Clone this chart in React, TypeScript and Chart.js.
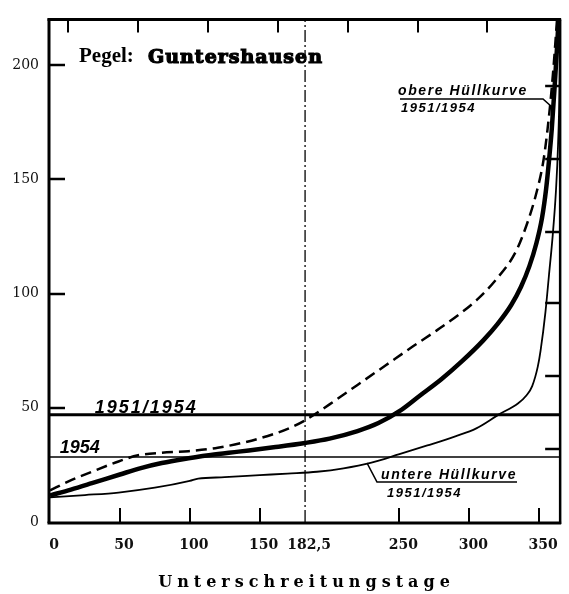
import React, { useEffect, useRef } from "react";
import { Chart, registerables } from "chart.js";

Chart.register(...registerables);

// ---- axis ticks ----
const xTickValues = [0, 50, 100, 150, 182.5, 250, 300, 350];
const yTickValues = [0, 50, 100, 150, 200];
const bottomInnerTicks = [50, 100, 150, 250, 300, 350];
const leftInnerTicks = [50, 100, 150, 200];
const topInnerTicks = [13, 63, 113, 163, 213, 263, 313];
const rightInnerTicks = [32, 64, 96, 127, 159, 191];

// ---- obere Hüllkurve 1951/1954 (dashed) ----
const upperDays = [0, 14, 28, 49, 63, 80, 99, 120, 140, 160, 172, 182.5, 200, 220, 240, 260, 277, 293, 305, 319, 333, 341, 348, 353, 356, 359, 361, 363];
const upperValues = [13.8, 18, 21.5, 26.5, 29.2, 30.3, 31, 32.5, 35, 38.5, 41.3, 44.5, 51.5, 60, 68.5, 77, 84, 91, 97, 106, 118, 130, 144, 158, 172, 190, 205, 222];

// ---- mittlere Dauerlinie (thick) ----
const middleDays = [0, 15, 30, 50, 65, 80, 95, 115, 135, 160, 182.5, 200, 220, 235, 250, 265, 280, 295, 310, 320, 330, 337, 343, 348, 352, 355, 357, 359, 361, 363, 364.5];
const middleValues = [11.6, 14.2, 17, 20.8, 23.6, 25.8, 27.5, 29.3, 30.8, 32.7, 34.6, 36.5, 39.8, 43.3, 48.5, 55.5, 62.5, 70.5, 79.5, 86.5, 95, 103, 112, 122, 133, 146, 158, 172, 190, 210, 228];

// ---- untere Hüllkurve 1951/1954 (thin) ----
const lowerDays = [0, 25, 49, 75, 100, 106, 125, 150, 170, 191, 210, 230, 250, 270, 290, 305, 321, 335, 341, 345, 349, 351, 354.5, 357, 359.7, 362, 363.5, 364.5, 365];
const lowerValues = [10.8, 11.8, 12.9, 15, 18, 19, 19.6, 20.5, 21.2, 22, 23.5, 26, 29.7, 33.5, 37.5, 41, 47, 52, 55.5, 59.5, 68, 75, 92, 108, 125.6, 145, 165, 190, 225];

// ---- horizontal levels and half-year line ----
const level19511954 = 47;
const level1954 = 28.5;
const halfYearDay = 182.5;
const xMax = 365;
const yMax = 220;

const pts = (xs: number[], ys: number[]) => xs.map((d, i) => ({ x: d, y: ys[i] }));

const decorPlugin = {
  id: "decor",
  afterDatasetsDraw(chart: any) {
    const { ctx, chartArea, scales } = chart;
    const { left, right, top, bottom } = chartArea;
    const xs = scales.x;
    const ys = scales.y;
    ctx.save();
    ctx.strokeStyle = "#000";
    ctx.fillStyle = "#000";
    ctx.lineCap = "butt";

    // frame
    ctx.lineWidth = 3;
    ctx.beginPath();
    ctx.moveTo(left - 1, top - 1);
    ctx.lineTo(left - 1, bottom + 1);
    ctx.stroke();
    ctx.beginPath();
    ctx.moveTo(left - 2.5, bottom + 1);
    ctx.lineTo(right + 1, bottom + 1);
    ctx.stroke();
    ctx.beginPath();
    ctx.moveTo(left - 2.5, top);
    ctx.lineTo(right + 1, top);
    ctx.stroke();
    ctx.lineWidth = 2.5;
    ctx.beginPath();
    ctx.moveTo(right, top);
    ctx.lineTo(right, bottom + 2);
    ctx.stroke();

    // inner ticks
    ctx.lineWidth = 2;
    bottomInnerTicks.forEach((v) => {
      const px = Math.round(xs.getPixelForValue(v));
      ctx.beginPath();
      ctx.moveTo(px, bottom);
      ctx.lineTo(px, bottom - 14);
      ctx.stroke();
    });
    topInnerTicks.forEach((v) => {
      const px = Math.round(xs.getPixelForValue(v));
      ctx.beginPath();
      ctx.moveTo(px, top);
      ctx.lineTo(px, top + 13);
      ctx.stroke();
    });
    ctx.lineWidth = 2.5;
    leftInnerTicks.forEach((v) => {
      const py = Math.round(ys.getPixelForValue(v));
      ctx.beginPath();
      ctx.moveTo(left, py);
      ctx.lineTo(left + 15, py);
      ctx.stroke();
    });
    rightInnerTicks.forEach((v) => {
      const py = Math.round(ys.getPixelForValue(v));
      ctx.beginPath();
      ctx.moveTo(right, py);
      ctx.lineTo(right - 15, py);
      ctx.stroke();
    });

    const X = (v: number) => xs.getPixelForValue(v);
    const Y = (v: number) => ys.getPixelForValue(v);
    ctx.textAlign = "left";
    ctx.textBaseline = "alphabetic";

    // Pegel label
    ctx.letterSpacing = "0px";
    ctx.font = 'bold 21px "Liberation Serif"';
    ctx.fillText("Pegel:", 79, 62);
    ctx.font = 'bold 19px "DejaVu Serif"';
    ctx.letterSpacing = "1px";
    ctx.lineWidth = 1.2;
    ctx.fillText("Guntershausen", 148, 63);
    ctx.strokeText("Guntershausen", 148, 63);

    // level labels
    ctx.font = 'italic bold 18px "Liberation Sans"';
    ctx.letterSpacing = "2px";
    ctx.fillText("1951/1954", X(32), Y(47.7));
    ctx.letterSpacing = "0px";
    ctx.fillText("1954", X(7), Y(30));

    // obere Hüllkurve
    ctx.font = 'italic bold 14px "Liberation Sans"';
    ctx.letterSpacing = "1.6px";
    ctx.fillText("obere Hüllkurve", 398, 95);
    ctx.font = 'italic bold 13px "Liberation Sans"';
    ctx.letterSpacing = "1.5px";
    ctx.fillText("1951/1954", 401, 112);
    ctx.lineWidth = 1.6;
    ctx.beginPath();
    ctx.moveTo(400, 99);
    ctx.lineTo(543, 99);
    ctx.lineTo(552, 107);
    ctx.stroke();

    // untere Hüllkurve
    ctx.font = 'italic bold 14px "Liberation Sans"';
    ctx.letterSpacing = "1.6px";
    ctx.fillText("untere Hüllkurve", 381, 479);
    ctx.font = 'italic bold 13px "Liberation Sans"';
    ctx.letterSpacing = "1.5px";
    ctx.fillText("1951/1954", 387, 497);
    ctx.beginPath();
    ctx.moveTo(367, 463);
    ctx.lineTo(377, 482);
    ctx.lineTo(517, 482);
    ctx.stroke();

    // axis title
    ctx.font = 'bold 16px "DejaVu Serif"';
    const ls = 5;
    ctx.letterSpacing = ls + "px";
    const title = "Unterschreitungstage";
    const w = ctx.measureText(title).width - ls;
    ctx.fillText(title, 304 - w / 2, 587);

    ctx.restore();
  },
};

export default function App() {
  const ref = useRef<HTMLCanvasElement | null>(null);

  useEffect(() => {
    if (!ref.current) return;
    const common = { pointRadius: 0, borderColor: "#000", fill: false, borderCapStyle: "butt" };
    const chart = new Chart(ref.current, {
      type: "line",
      data: {
        datasets: [
          { ...common, data: pts(upperDays, upperValues), borderWidth: 2.5, borderDash: [11, 6], cubicInterpolationMode: "monotone" },
          { ...common, data: pts(middleDays, middleValues), borderWidth: 4.5, cubicInterpolationMode: "monotone" },
          { ...common, data: pts(lowerDays, lowerValues), borderWidth: 1.8, cubicInterpolationMode: "monotone" },
          { ...common, data: [{ x: 0, y: level19511954 }, { x: xMax, y: level19511954 }], borderWidth: 3 },
          { ...common, data: [{ x: 0, y: level1954 }, { x: xMax, y: level1954 }], borderWidth: 1.5 },
          { ...common, data: [{ x: halfYearDay, y: 0 }, { x: halfYearDay, y: yMax }], borderWidth: 1.3, borderDash: [12, 3, 2, 3] },
        ] as any,
      },
      options: {
        animation: false,
        responsive: false,
        devicePixelRatio: 1,
        layout: { padding: { left: 0, right: 5, top: 10, bottom: 0 } },
        plugins: { legend: { display: false }, tooltip: { enabled: false }, title: { display: false } },
        scales: {
          x: {
            type: "linear",
            min: 0,
            max: xMax,
            grid: { display: false, drawTicks: false },
            border: { display: false },
            afterBuildTicks: (s: any) => {
              s.ticks = xTickValues.map((v) => ({ value: v }));
            },
            afterFit: (s: any) => {
              s.height = 72;
            },
            ticks: {
              autoSkip: false,
              maxRotation: 0,
              padding: 15,
              labelOffset: 4,
              color: "#111",
              font: { family: "DejaVu Serif", size: 14, weight: "bold" },
              callback: (v: any) => String(v).replace(".", ","),
            },
          },
          y: {
            type: "linear",
            min: 0,
            max: yMax,
            grid: { display: false, drawTicks: false },
            border: { display: false },
            afterBuildTicks: (s: any) => {
              s.ticks = yTickValues.map((v) => ({ value: v }));
            },
            afterFit: (s: any) => {
              s.width = 50;
            },
            ticks: {
              autoSkip: false,
              padding: 11,
              color: "#111",
              font: { family: "DejaVu Serif", size: 14 },
            },
          },
        },
      } as any,
      plugins: [decorPlugin],
    });
    return () => chart.destroy();
  }, []);

  return (
    <div style={{ position: "absolute", left: 0, top: 0, width: 569, height: 594, background: "#fff" }}>
      <canvas ref={ref} width={569} height={594} style={{ display: "block", width: 569, height: 594 }} />
    </div>
  );
}
